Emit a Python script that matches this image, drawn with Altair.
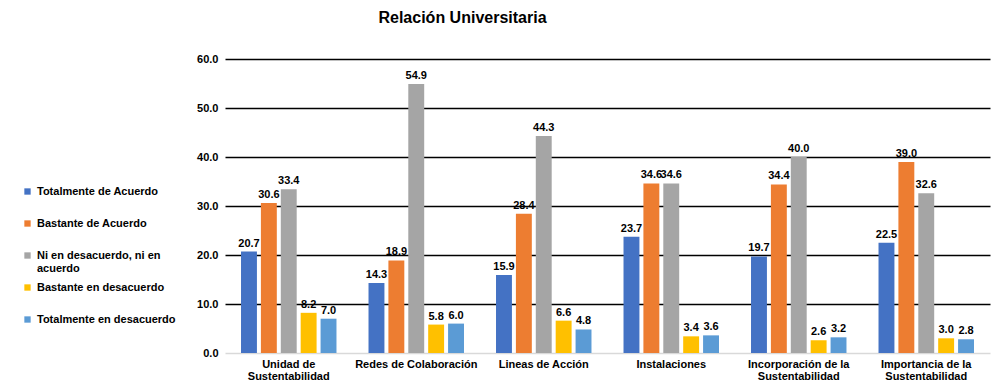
import altair as alt
import pandas as pd

categories = ["Unidad de Sustentabilidad", "Redes de Colaboración", "Lineas de Acción",
              "Instalaciones", "Incorporación de la Sustentabilidad", "Importancia de la Sustentabilidad"]
series = ["Totalmente de Acuerdo", "Bastante de Acuerdo", "Ni en desacuerdo, ni en acuerdo",
          "Bastante en desacuerdo", "Totalmente en desacuerdo"]
totalmente_acuerdo = [20.7, 14.3, 15.9, 23.7, 19.7, 22.5]
bastante_acuerdo = [30.6, 18.9, 28.4, 34.6, 34.4, 39.0]
ni_ni = [33.4, 54.9, 44.3, 34.6, 40.0, 32.6]
bastante_desacuerdo = [8.2, 5.8, 6.6, 3.4, 2.6, 3.0]
totalmente_desacuerdo = [7.0, 6.0, 4.8, 3.6, 3.2, 2.8]
colors = ["#4472C4", "#ED7D31", "#A5A5A5", "#FFC000", "#5B9BD5"]

values = [totalmente_acuerdo, bastante_acuerdo, ni_ni, bastante_desacuerdo, totalmente_desacuerdo]
rows = []
for s, vals in zip(series, values):
    for c, v in zip(categories, vals):
        rows.append({"categoria": c, "serie": s, "valor": v})
df = pd.DataFrame(rows)

FONT = "Liberation Sans"

x = alt.X("categoria:N", sort=categories, title=None,
          scale=alt.Scale(paddingInner=0.22, paddingOuter=0.11),
          axis=alt.Axis(labelAngle=0, labelFont=FONT, labelFontSize=11, labelFontWeight="bold",
                        labelColor="black", labelPadding=5, labelLineHeight=12, ticks=False, domain=False,
                        labelExpr="split(replace(datum.label, ' Sustentabilidad', '|Sustentabilidad'), '|')"))
xo = alt.XOffset("serie:N", sort=series, scale=alt.Scale(paddingInner=0.2, paddingOuter=0.1))
y = alt.Y("valor:Q", title=None, scale=alt.Scale(domain=[0, 60], nice=False),
          axis=alt.Axis(values=[0, 10, 20, 30, 40, 50, 60], format=".1f", labelFont=FONT,
                        labelFontSize=11, labelFontWeight="bold", labelColor="black",
                        labelPadding=7, ticks=False, domain=False,
                        gridColor={"condition": {"test": "datum.value === 0", "value": "#D9D9D9"}, "value": "black"},
                        gridWidth=1.3))

color = alt.Color("serie:N", sort=series, scale=alt.Scale(domain=series, range=colors),
                  legend=alt.Legend(title=None, orient="none", legendX=-203, legendY=127,
                                    symbolType="square", symbolSize=40, symbolStrokeWidth=0,
                                    labelFont=FONT, labelFontSize=11, labelFontWeight="bold",
                                    labelColor="black", labelOffset=4, rowPadding=7, gridAlign="all",
                                    labelLimit=200,
                                    labelExpr="split(replace(datum.label, ', ni en acuerdo', ', ni en|acuerdo'), '|')"))

bars = alt.Chart(df).mark_bar().encode(x=x, xOffset=xo, y=y, color=color)
labels = alt.Chart(df).mark_text(dy=-8, font=FONT, fontSize=11, fontWeight="bold", color="black").encode(
    x=x, xOffset=xo, y=y, text=alt.Text("valor:Q", format=".1f"))

chart = alt.layer(bars, labels).properties(
    width=765, height=294,
    title=alt.TitleParams("Relación Universitaria", font=FONT, fontSize=16, fontWeight="bold",
                          color="black", anchor="middle", dx=-145, offset=27),
    autosize=alt.AutoSizeParams(type="none"),
    padding={"left": 217, "top": 51, "right": 6, "bottom": 29},
).configure_view(stroke=None)

chart.save("out.html", embed_options={"renderer": "svg", "actions": False})
